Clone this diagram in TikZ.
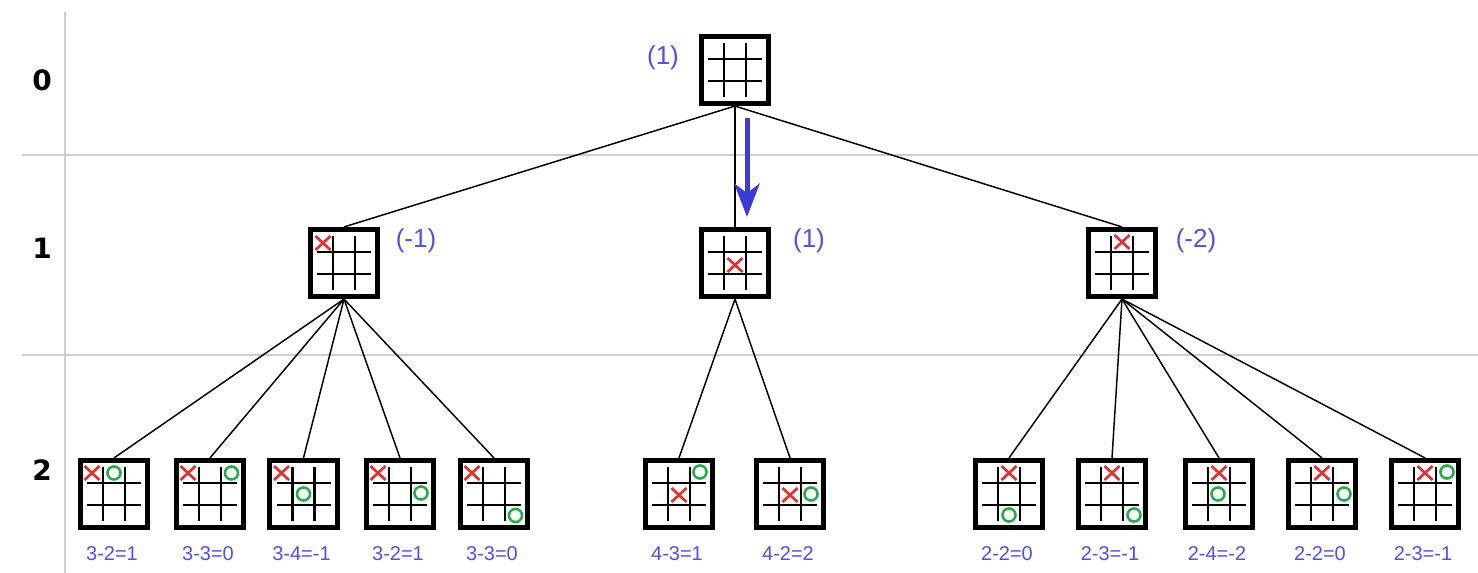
\documentclass[tikz,border=0pt]{standalone}
\usepackage{fontspec}
\newfontfamily\lblfont{Liberation Sans}
\newfontfamily\lvlfont{DejaVu Sans}
\usetikzlibrary{arrows.meta}
\definecolor{lblblue}{RGB}{80,80,225}
\definecolor{arrblue}{RGB}{60,60,210}
\definecolor{xred}{RGB}{225,50,50}
\definecolor{ogreen}{RGB}{40,170,70}
\definecolor{rulegray}{RGB}{205,205,205}
\tikzset{
 board/.style={draw, line width=3.6pt, minimum size=50.5pt, inner sep=0pt, fill=white},
 gridln/.style={line width=2pt, line cap=butt},
 edge/.style={line width=1.1pt},
 rulel/.style={draw=rulegray, line width=1.5pt},
 lvl/.style={font=\lvlfont\bfseries\fontsize{21pt}{22pt}\selectfont, inner sep=0pt},
 val/.style={text=lblblue, font=\lblfont\fontsize{19.5pt}{20pt}\selectfont, inner sep=0pt},
 score/.style={text=lblblue, font=\lblfont\fontsize{15pt}{16pt}\selectfont, inner sep=0pt},
 bluearr/.style={draw=arrblue, line width=3.75pt, -{Stealth[length=25pt,width=19pt,inset=7pt]}},
 xmk/.pic={\draw[draw=xred, line width=2pt] (-7.5,-7)--(7.5,7) (-7.5,7)--(7.5,-7);},
 omk/.pic={\draw[draw=ogreen, line width=1.9pt] (0,0) circle[radius=4.9pt];},
 gridpic/.pic={\draw[gridln] (-11,-27)--(-11,27) (11,-27)--(11,27) (-27,-11)--(27,-11) (-27,11)--(27,11);},
}
\newcommand\tttboard[3]{\node[board] (#1) at (#2,#3) {}; \pic at (#2,#3) {gridpic};}
\begin{document}
\begin{tikzpicture}[x=0.75pt,y=-0.75pt]
\useasboundingbox (0,0) rectangle (1478,573);
% rules
\draw[rulel] (65,12) -- (65,573);
\draw[rulel] (22,155) -- (1478,155);
\draw[rulel] (22,355) -- (1478,355);
% level numbers
\node[lvl] (lv0) at (42,80) {0};
\node[lvl] (lv1) at (42,248) {1};
\node[lvl] (lv2) at (42,470) {2};
% boards
\tttboard{r}{735}{70}
\tttboard{a}{344}{263}
\tttboard{b}{735}{263}
\tttboard{c}{1122}{263}
\tttboard{a1}{114}{494}
\tttboard{a2}{210}{494}
\tttboard{a3}{303.5}{494}
\tttboard{a4}{400}{494}
\tttboard{a5}{494}{494}
\tttboard{b1}{679}{494}
\tttboard{b2}{790}{494}
\tttboard{c1}{1009}{494}
\tttboard{c2}{1112}{494}
\tttboard{c3}{1219}{494}
\tttboard{c4}{1322}{494}
\tttboard{c5}{1425}{494}
% marks level 1
\path (a) ++(-21,-20) pic {xmk};
\path (b) ++(0,2) pic {xmk};
\path (c) ++(0,-21) pic {xmk};
% marks level 2 left
\foreach \n in {a1,a2,a3,a4,a5} {\path (\n) ++(-22,-21) pic {xmk};}
\path (a1) ++(0,-21) pic {omk};
\path (a2) ++(21.5,-21) pic {omk};
\path (a3) ++(0,0) pic {omk};
\path (a4) ++(21,-1) pic {omk};
\path (a5) ++(21.5,21.5) pic {omk};
% middle
\foreach \n in {b1,b2} {\path (\n) ++(0,1) pic {xmk};}
\path (b1) ++(21,-22) pic {omk};
\path (b2) ++(21,0) pic {omk};
% right
\foreach \n in {c1,c2,c3,c4,c5} {\path (\n) ++(0,-21) pic {xmk};}
\path (c1) ++(0,21) pic {omk};
\path (c2) ++(22,21) pic {omk};
\path (c3) ++(-1,0) pic {omk};
\path (c4) ++(22,0) pic {omk};
\path (c5) ++(22,-22) pic {omk};
% edges
\draw[edge] (r.south) -- (a.north);
\draw[edge] (r.south) -- (b.north);
\draw[edge] (r.south) -- (c.north);
\foreach \n in {a1,a2,a3,a4,a5} {\draw[edge] (a.south) -- (\n.north);}
\foreach \n in {b1,b2} {\draw[edge] (b.south) -- (\n.north);}
\foreach \n in {c1,c2,c3,c4,c5} {\draw[edge] (c.south) -- (\n.north);}
% arrow
\coordinate (ar1) at (747,118);
\coordinate (ar2) at (747,217);
\draw[bluearr] (ar1) -- (ar2);
% values
\node[val] (vr) at (663,58) {(1)};
\node[val] (va) at (416,241) {(-1)};
\node[val] (vb) at (809,241) {(1)};
\node[val] (vc) at (1196,241) {(-2)};
% scores
\node[score] (s1) at (112,554) {3-2=1};
\node[score] (s2) at (208,554) {3-3=0};
\node[score] (s3) at (301.5,554) {3-4=-1};
\node[score] (s4) at (398,554) {3-2=1};
\node[score] (s5) at (492,554) {3-3=0};
\node[score] (s6) at (677,554) {4-3=1};
\node[score] (s7) at (788,554) {4-2=2};
\node[score] (s8) at (1007,554) {2-2=0};
\node[score] (s9) at (1110,554) {2-3=-1};
\node[score] (s10) at (1217,554) {2-4=-2};
\node[score] (s11) at (1320,554) {2-2=0};
\node[score] (s12) at (1423,554) {2-3=-1};
\end{tikzpicture}
\end{document}
